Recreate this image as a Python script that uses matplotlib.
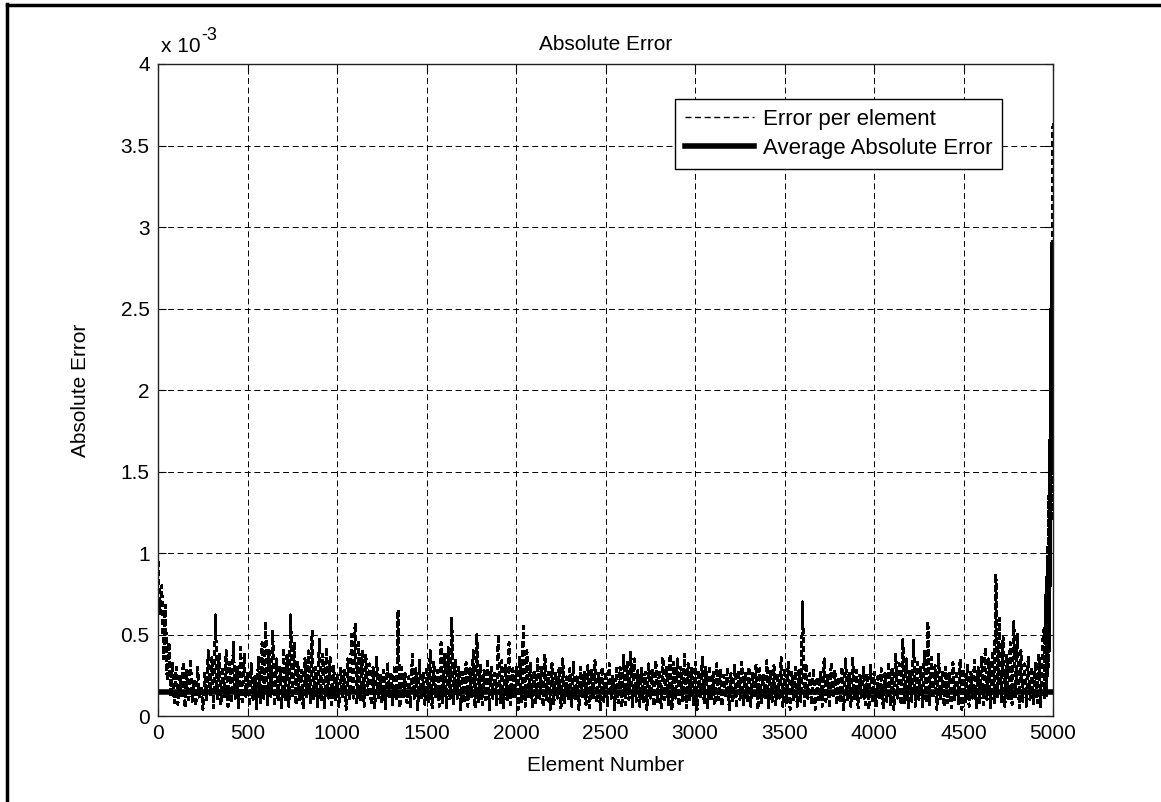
import matplotlib
matplotlib.use("Agg")
import matplotlib.pyplot as plt
from matplotlib.lines import Line2D
import numpy as np

plt.rcParams["font.family"] = ["Liberation Sans", "DejaVu Sans"]
plt.rcParams["lines.scale_dashes"] = False

# error per element (units of 1e-3), one row per 100 elements
err_main = [
    .95, .62, .80, .35, .68, .22, .45, .12, .33, .08,
    .30, .07, .25, .12, .33, .05, .28, .10, .35, .09,
    .22, .06, .30, .11, .18, .04, .27, .09, .40, .13,
    .36, .05, .62, .10, .38, .07, .30, .12, .40, .06,
    .33, .08, .45, .11, .30, .05, .42, .09, .38, .12,
    .27, .06, .32, .10, .24, .04, .36, .08, .45, .11,
    .58, .07, .40, .12, .52, .06, .35, .09, .30, .05,
    .42, .10, .38, .06, .62, .11, .45, .07, .33, .09,
    .28, .05, .35, .12, .40, .08, .52, .10, .30, .06,
    .47, .09, .38, .05, .42, .11, .36, .07, .31, .10,
    .25, .06, .30, .12, .28, .04, .35, .09, .50, .11,
    .57, .08, .45, .10, .40, .06, .38, .12, .32, .07,
    .30, .05, .36, .10, .25, .08, .28, .04, .33, .11,
    .27, .07, .31, .09, .65, .05, .30, .12, .26, .08,
    .24, .06, .38, .11, .29, .04, .34, .10, .27, .07,
    .30, .09, .40, .05, .33, .12, .28, .06, .45, .08,
    .38, .05, .42, .10, .60, .07, .35, .11, .30, .04,
    .27, .08, .33, .06, .29, .12, .40, .05, .50, .09,
    .32, .07, .28, .10, .35, .04, .30, .11, .26, .06,
    .50, .08, .34, .05, .31, .10, .45, .07, .29, .12,
    .30, .04, .36, .09, .55, .06, .40, .11, .33, .05,
    .28, .08, .35, .10, .30, .06, .38, .09, .27, .04,
    .32, .07, .26, .11, .30, .05, .35, .08, .24, .10,
    .29, .06, .33, .09, .25, .04, .30, .11, .27, .07,
    .31, .05, .28, .10, .34, .08, .26, .04, .30, .09,
    .27, .06, .32, .11, .25, .03, .29, .08, .30, .05,
    .38, .07, .33, .10, .40, .05, .35, .09, .28, .06,
    .30, .08, .27, .04, .32, .11, .29, .06, .34, .09,
    .28, .05, .36, .10, .30, .07, .38, .04, .33, .11,
    .35, .06, .30, .09, .38, .05, .32, .10, .29, .07,
    .33, .04, .28, .11, .36, .08, .30, .05, .31, .09,
    .27, .07, .32, .10, .29, .06, .25, .12, .30, .04,
    .26, .08, .31, .05, .28, .10, .33, .07, .27, .09,
    .30, .06, .27, .11, .32, .04, .29, .08, .25, .10,
    .34, .05, .28, .09, .31, .07, .26, .11, .36, .06,
    .29, .08, .33, .04, .27, .10, .30, .06, .28, .09,
    .70, .05, .32, .11, .26, .07, .29, .04, .24, .10,
    .27, .06, .35, .09, .25, .05, .33, .11, .28, .07,
    .24, .08, .30, .04, .35, .10, .27, .06, .36, .09,
    .28, .05, .25, .11, .30, .07, .26, .04, .31, .08,
    .27, .06, .24, .10, .29, .05, .26, .09, .33, .07,
    .30, .04, .38, .11, .32, .07, .47, .08, .35, .05,
    .28, .09, .47, .06, .33, .10, .30, .05, .40, .08,
    .58, .07, .36, .11, .31, .04, .38, .09, .27, .06,
    .30, .08, .26, .05, .33, .10, .28, .07, .35, .04,
    .29, .09, .32, .06, .27, .11, .34, .05, .30, .08,
    .36, .07, .42, .10, .35, .05, .40, .08, .87, .12,
    .60, .09, .48, .06, .38, .10, .45, .07, .58, .11,
    .50, .05, .40, .09, .32, .06, .36, .10, .30, .07,
    .33, .08, .38, .05, .45,
]
# last 50 elements, sampled finer (every 2nd element)
err_tail = [
    .55, .10, .62, .15, .75, .20, .85, .12, .95, .25,
    1.10, .30, 1.35, .40, 1.70, .55, 2.10, .80, 2.50, 1.20,
    2.90, 1.50, 2.40, 3.20, 3.65,
]
avg_err = 0.15  # average absolute error, 1e-3

x_main = np.arange(1, 4951, 10)
x_tail = np.arange(4952, 5001, 2)
elem = np.concatenate([x_main, x_tail])
err = np.array(err_main + err_tail)

xticks = np.arange(0, 5001, 500)
yticks = np.arange(0, 4.01, 0.5)
ytick_labels = ["0", "0.5", "1", "1.5", "2", "2.5", "3", "3.5", "4"]

fig = plt.figure(figsize=(11.61, 8.02), dpi=100)
ax = fig.add_axes([0.1361, 0.1072, 0.7709, 0.8130])

ax.plot(elem, err, color="k", lw=1.4, linestyle=(0, (4.3, 2.6)),
        antialiased=False, label="Error per element")
ax.plot([1, 5000], [avg_err, avg_err], color="k", lw=4,
        label="Average Absolute Error")

ax.set_xlim(0, 5000)
ax.set_ylim(0, 4)
ax.set_xticks(xticks)
ax.set_yticks(yticks)
ax.set_yticklabels(ytick_labels)
ax.tick_params(direction="in", length=6, width=0.8, labelsize=15,
               top=True, right=True, pad=6, colors="k")
ax.grid(True, color="k", lw=0.7, linestyle=(0, (4.3, 2.6)))
for s in ax.spines.values():
    s.set_linewidth(1.0)
    s.set_color("#222222")

ax.set_xlabel("Element Number", fontsize=15, labelpad=9)
ax.set_ylabel("Absolute Error", fontsize=15, labelpad=22)
ax.set_title("Absolute Error", fontsize=15, pad=10)
ax.text(0.003, 1.012, "x 10", transform=ax.transAxes, fontsize=15,
        ha="left", va="bottom")
ax.text(0.048, 1.030, "-3", transform=ax.transAxes, fontsize=13,
        ha="left", va="bottom")

leg = ax.legend(loc="upper right", bbox_to_anchor=(0.943, 0.946),
                borderaxespad=0, fontsize=16, handlelength=3.1,
                fancybox=False, framealpha=1, edgecolor="k",
                borderpad=0.45, labelspacing=0.35, handletextpad=0.4)
leg.get_frame().set_linewidth(1.0)
leg.get_lines()[0].set_linewidth(1.0)

# window border from the screenshot
fig.add_artist(Line2D([7 / 1161, 7 / 1161], [0, 1 - 4 / 802], color="k", lw=2.5))
fig.add_artist(Line2D([7 / 1161, 1], [1 - 5 / 802, 1 - 5 / 802], color="k", lw=2.5))

fig.savefig("out.png", dpi=100)
